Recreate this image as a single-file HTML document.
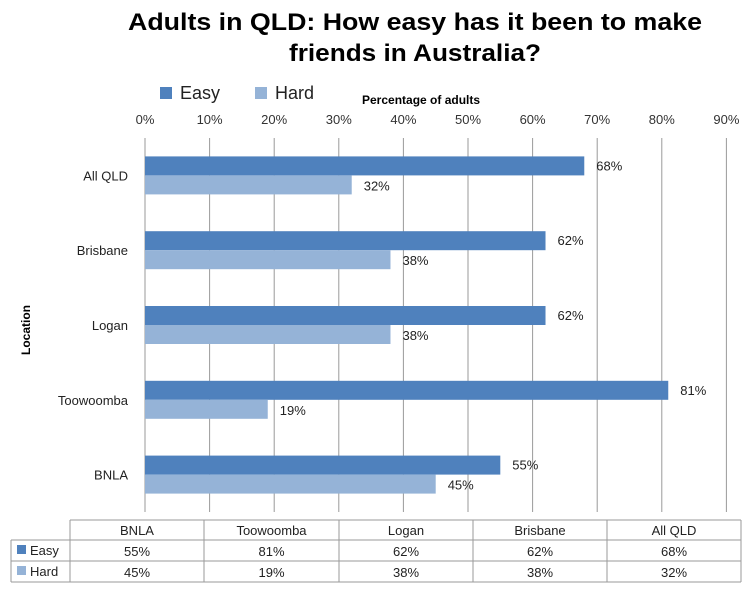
<!DOCTYPE html>
<html><head><meta charset="utf-8"><style>
html,body{margin:0;padding:0;background:#fff}
svg{display:block;font-family:"Liberation Sans",sans-serif}
</style></head><body>
<svg id="chart" width="754" height="601" viewBox="0 0 754 601">
<text x="415" y="30" text-anchor="middle" font-size="24" font-weight="bold" textLength="574" lengthAdjust="spacingAndGlyphs">Adults in QLD: How easy has it been to make</text>
<text x="415" y="61" text-anchor="middle" font-size="24" font-weight="bold" textLength="252" lengthAdjust="spacingAndGlyphs">friends in Australia?</text>
<g>
<rect x="160" y="87" width="12" height="12" fill="#4f81bd"/>
<text x="180" y="99" font-size="18" fill="#222">Easy</text>
<rect x="255" y="87" width="12" height="12" fill="#95b3d7"/>
<text x="275" y="99" font-size="18" fill="#222">Hard</text>
</g>
<text x="362" y="104" font-size="12" font-weight="bold">Percentage of adults</text>
<text transform="translate(30,330) rotate(-90)" text-anchor="middle" font-size="12" font-weight="bold">Location</text>
<g id="plot"></g>
<g id="table"></g>
</svg>
<script>
const categories = ["All QLD","Brisbane","Logan","Toowoomba","BNLA"];
const easyValues = [68,62,62,81,55];
const hardValues = [32,38,38,19,45];
const tickValues = [0,10,20,30,40,50,60,70,80,90];
const tableOrder = ["BNLA","Toowoomba","Logan","Brisbane","All QLD"];

const NS = "http://www.w3.org/2000/svg";
const x0 = 145, pxPer = 6.46, plotTop = 138, plotBottom = 512;
const catTop = 138, catStep = 74.8;
function xScale(v){ return x0 + v * pxPer; }
function yCat(i){ return catTop + catStep * i + catStep / 2; }
function mk(tag, attrs, parent){ const e = document.createElementNS(NS, tag); for (const k in attrs) e.setAttribute(k, attrs[k]); parent.appendChild(e); return e; }
const plot = document.getElementById('plot');
tickValues.forEach(t => {
  const l = mk('line', {x1:xScale(t), x2:xScale(t), y1:plotTop, y2:plotBottom, stroke:'#9a9a9a', 'stroke-width':1}, plot);
  
  
  const tx = mk('text', {x:xScale(t), y:124, 'text-anchor':'middle', 'font-size':13, fill:'#333'}, plot);
  tx.textContent = t + '%';
  
  
});
categories.forEach((c, i) => {
  const cy = yCat(i);
  const lab = mk('text', {x:128, y:cy + 5, 'text-anchor':'end', 'font-size':13, fill:'#222'}, plot);
  lab.textContent = c;
  
  
  const be = mk('rect', {x:x0, y:cy - 19, width:xScale(easyValues[i]) - x0, height:19, fill:'#4f81bd'}, plot);
  
  
  const bh = mk('rect', {x:x0, y:cy, width:xScale(hardValues[i]) - x0, height:19, fill:'#95b3d7'}, plot);
  
  
  const le = mk('text', {x:xScale(easyValues[i]) + 12, y:cy - 5, 'font-size':13, fill:'#222'}, plot);
  le.textContent = easyValues[i] + '%';
  
  
  const lh = mk('text', {x:xScale(hardValues[i]) + 12, y:cy + 15, 'font-size':13, fill:'#222'}, plot);
  lh.textContent = hardValues[i] + '%';
  
  
});
// data table
const tbl = document.getElementById('table');
const cols = [70,204,339,473,607,741];
const rows = [520,540,561,582];
const ln = (a) => { const l = mk('line', Object.assign({stroke:'#9a9a9a','stroke-width':1}, a), tbl);   };
ln({x1:70, x2:741, y1:520, y2:520});
ln({x1:11, x2:741, y1:540, y2:540});
ln({x1:11, x2:741, y1:561, y2:561});
ln({x1:11, x2:741, y1:582, y2:582});
ln({x1:11, x2:11, y1:540, y2:582});
cols.forEach(cx => ln({x1:cx, x2:cx, y1:520, y2:582}));
tableOrder.forEach((c, j) => {
  const i = categories.indexOf(c);
  const cx = (cols[j] + cols[j+1]) / 2;
  const h = mk('text', {x:cx, y:535, 'text-anchor':'middle', 'font-size':13, fill:'#222'}, tbl);
  h.textContent = c;
  
  
  const e = mk('text', {x:cx, y:556, 'text-anchor':'middle', 'font-size':13, fill:'#222'}, tbl);
  e.textContent = easyValues[i] + '%';
  
  
  const hh = mk('text', {x:cx, y:577, 'text-anchor':'middle', 'font-size':13, fill:'#222'}, tbl);
  hh.textContent = hardValues[i] + '%';
  
  
});
[['Easy','#4f81bd',551],['Hard','#95b3d7',572]].forEach(([n,col,y]) => {
  const r = mk('rect', {x:17, y:y - 6, width:9, height:9, fill:col}, tbl);
  
  
  const t = mk('text', {x:30, y:y + 4, 'font-size':13, fill:'#222'}, tbl);
  t.textContent = n;
  
  
});
</script>
</body></html>
